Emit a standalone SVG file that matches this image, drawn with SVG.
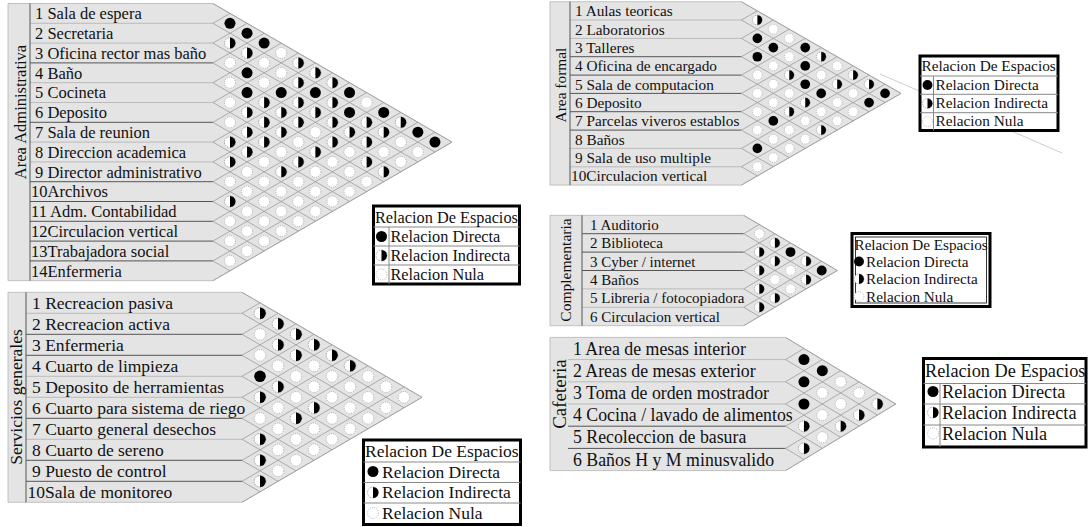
<svg xmlns="http://www.w3.org/2000/svg" width="1088" height="527" viewBox="0 0 1088 527">
<style>
.t{font-family:"Liberation Serif","Times New Roman",serif;fill:#111}
.pan{fill:#e4e4e4;stroke:#b4b4b4;stroke-width:0.8}
.grid{fill:none;stroke:#9c9c9c;stroke-width:0.8;vector-effect:non-scaling-stroke}
.sd{fill:none;stroke:#555;stroke-width:1}
.sl{fill:none;stroke:#b0b0b0;stroke-width:0.8}
.vl{fill:none;stroke:#555;stroke-width:1}
.box{fill:#fff;stroke:#000;stroke-width:3}
.lgl{fill:none;stroke:#888;stroke-width:1}
</style>
<defs>
  <!-- relation symbols: direct, indirect, null -->
  <g id="D"><circle r="5.5" fill="#000"/></g>
  <g id="I"><circle r="5.5" fill="#fff" stroke="#8a8a8a" stroke-width="0.7" stroke-dasharray="1.5 1"/><path d="M0-5.5A5.5 5.5 0 0 1 0 5.5Z" fill="#000"/></g>
  <g id="N"><circle r="5.5" fill="#fff" stroke="#9a9a9a" stroke-width="0.7" stroke-dasharray="1 1.2"/></g>
  <!-- per-matrix wrappers undoing the lattice scale -->
  <g id="aD" transform="scale(0.058548,0.10101)"><use href="#D"/></g>
  <g id="aI" transform="scale(0.058548,0.10101)"><use href="#I"/></g>
  <g id="aN" transform="scale(0.058548,0.10101)"><use href="#N"/></g>
  <g id="sD" transform="scale(0.058333,0.1)"><use href="#D"/></g>
  <g id="sI" transform="scale(0.058333,0.1)"><use href="#I"/></g>
  <g id="sN" transform="scale(0.058333,0.1)"><use href="#N"/></g>
  <g id="fD" transform="scale(0.055138,0.095965)"><use href="#D"/></g>
  <g id="fI" transform="scale(0.055138,0.095965)"><use href="#I"/></g>
  <g id="fN" transform="scale(0.055138,0.095965)"><use href="#N"/></g>
  <g id="cD" transform="scale(0.057692,0.097826)"><use href="#D"/></g>
  <g id="cI" transform="scale(0.057692,0.097826)"><use href="#I"/></g>
  <g id="cN" transform="scale(0.057692,0.097826)"><use href="#N"/></g>
  <g id="kD" transform="scale(0.054466,0.09009)"><use href="#D"/></g>
  <g id="kI" transform="scale(0.054466,0.09009)"><use href="#I"/></g>
  <g id="kN" transform="scale(0.054466,0.09009)"><use href="#N"/></g>
</defs>
<rect width="1088" height="527" fill="#fff"/>

<!-- faint guide line behind the formal-area legend -->
<g id="guide">
  <path d="M880 74L1062 153" stroke="#d6c8cc" stroke-width="1" fill="none"/>
</g>

<!-- ===== Area Administrativa ===== -->
<g id="matrix-admin">
  <polygon class="pan" points="8,3.5 212.9,3.5 452,142.1 212.9,280.7 8,280.7"/>
  <path class="sl" d="M30 23.3H212.9M30 43.1H212.9M30 82.7H212.9M30 102.5H212.9M30 142.1H212.9M30 161.9H212.9"/>
  <path class="sd" d="M30 62.9H212.9M30 122.3H212.9M30 181.7H212.9M30 201.5H212.9M30 221.3H212.9M30 241.1H212.9M30 260.9H212.9"/>
  <path class="vl" d="M30 3.5V280.7"/>
  <text class="t" font-size="16.5" text-anchor="middle" transform="translate(26,112) rotate(-90)">Area Administrativa</text>
  <g class="t" font-size="16.5">
    <text x="35" y="19.2">1 Sala de espera</text>
    <text x="35" y="39">2 Secretaria</text>
    <text x="35" y="58.8">3 Oficina rector mas baño</text>
    <text x="35" y="78.6">4 Baño</text>
    <text x="35" y="98.4">5 Cocineta</text>
    <text x="35" y="118.2">6 Deposito</text>
    <text x="35" y="138">7 Sala de reunion</text>
    <text x="35" y="157.8">8 Direccion academica</text>
    <text x="35" y="177.6">9 Director administrativo</text>
    <text x="31" y="197.4">10Archivos</text>
    <text x="31" y="217.2">11 Adm. Contabilidad</text>
    <text x="31" y="237">12Circulacion vertical</text>
    <text x="31" y="256.8">13Trabajadora social</text>
    <text x="31" y="276.6">14Enfermeria</text>
  </g>
  <g transform="translate(212.9,3.5) scale(17.08,9.9)">
    <path class="grid" d="M0 0L14 14M0 2L13 15M0 4L12 16M0 6L11 17M0 8L10 18M0 10L9 19M0 12L8 20M0 14L7 21M0 16L6 22M0 18L5 23M0 20L4 24M0 22L3 25M0 24L2 26M0 26L1 27M0 2L1 1M0 4L2 2M0 6L3 3M0 8L4 4M0 10L5 5M0 12L6 6M0 14L7 7M0 16L8 8M0 18L9 9M0 20L10 10M0 22L11 11M0 24L12 12M0 26L13 13M0 28L14 14"/>
    <use href="#aD" x="1" y="2"/><use href="#aD" x="2" y="3"/><use href="#aD" x="3" y="4"/><use href="#aN" x="4" y="5"/><use href="#aI" x="5" y="6"/><use href="#aI" x="6" y="7"/><use href="#aI" x="7" y="8"/><use href="#aD" x="8" y="9"/><use href="#aN" x="9" y="10"/><use href="#aD" x="10" y="11"/><use href="#aI" x="11" y="12"/><use href="#aD" x="12" y="13"/><use href="#aD" x="13" y="14"/>
    <use href="#aI" x="1" y="4"/><use href="#aI" x="2" y="5"/><use href="#aN" x="3" y="6"/><use href="#aN" x="4" y="7"/><use href="#aI" x="5" y="8"/><use href="#aD" x="6" y="9"/><use href="#aI" x="7" y="10"/><use href="#aD" x="8" y="11"/><use href="#aI" x="9" y="12"/><use href="#aI" x="10" y="13"/><use href="#aN" x="11" y="14"/><use href="#aN" x="12" y="15"/>
    <use href="#aN" x="1" y="6"/><use href="#aD" x="2" y="7"/><use href="#aN" x="3" y="8"/><use href="#aD" x="4" y="9"/><use href="#aI" x="5" y="10"/><use href="#aI" x="6" y="11"/><use href="#aI" x="7" y="12"/><use href="#aI" x="8" y="13"/><use href="#aI" x="9" y="14"/><use href="#aN" x="10" y="15"/><use href="#aN" x="11" y="16"/>
    <use href="#aN" x="1" y="8"/><use href="#aD" x="2" y="9"/><use href="#aI" x="3" y="10"/><use href="#aI" x="4" y="11"/><use href="#aI" x="5" y="12"/><use href="#aN" x="6" y="13"/><use href="#aI" x="7" y="14"/><use href="#aN" x="8" y="15"/><use href="#aI" x="9" y="16"/><use href="#aI" x="10" y="17"/>
    <use href="#aN" x="1" y="10"/><use href="#aI" x="2" y="11"/><use href="#aI" x="3" y="12"/><use href="#aI" x="4" y="13"/><use href="#aN" x="5" y="14"/><use href="#aI" x="6" y="15"/><use href="#aN" x="7" y="16"/><use href="#aN" x="8" y="17"/><use href="#aN" x="9" y="18"/>
    <use href="#aN" x="1" y="12"/><use href="#aI" x="2" y="13"/><use href="#aI" x="3" y="14"/><use href="#aN" x="4" y="15"/><use href="#aI" x="5" y="16"/><use href="#aN" x="6" y="17"/><use href="#aN" x="7" y="18"/><use href="#aN" x="8" y="19"/>
    <use href="#aI" x="1" y="14"/><use href="#aI" x="2" y="15"/><use href="#aN" x="3" y="16"/><use href="#aI" x="4" y="17"/><use href="#aN" x="5" y="18"/><use href="#aN" x="6" y="19"/><use href="#aN" x="7" y="20"/>
    <use href="#aI" x="1" y="16"/><use href="#aN" x="2" y="17"/><use href="#aN" x="3" y="18"/><use href="#aN" x="4" y="19"/><use href="#aN" x="5" y="20"/><use href="#aN" x="6" y="21"/>
    <use href="#aN" x="1" y="18"/><use href="#aN" x="2" y="19"/><use href="#aN" x="3" y="20"/><use href="#aN" x="4" y="21"/><use href="#aN" x="5" y="22"/>
    <use href="#aI" x="1" y="20"/><use href="#aN" x="2" y="21"/><use href="#aN" x="3" y="22"/><use href="#aN" x="4" y="23"/>
    <use href="#aN" x="1" y="22"/><use href="#aN" x="2" y="23"/><use href="#aN" x="3" y="24"/>
    <use href="#aN" x="1" y="24"/><use href="#aN" x="2" y="25"/>
    <use href="#aN" x="1" y="26"/>
  </g>
</g>
<g id="legend-admin">
  <rect class="box" x="373.5" y="206" width="146" height="78"/>
  <path class="lgl" d="M373.5 227H519.5M373.5 246H519.5M373.5 265H519.5M389 227V284"/>
  <text class="t" x="375" y="222.5" font-size="16.3">Relacion De Espacios</text>
  <use href="#D" x="381.5" y="236.5"/><use href="#I" x="381.5" y="255.5"/><use href="#N" x="381.5" y="274.5"/>
  <g class="t" font-size="16.3">
    <text x="390.5" y="241.5">Relacion Directa</text>
    <text x="390.5" y="260.5">Relacion Indirecta</text>
    <text x="390.5" y="279.5">Relacion Nula</text>
  </g>
</g>

<!-- ===== Servicios generales ===== -->
<g id="matrix-servicios">
  <polygon class="pan" points="8,292.3 242,292.3 422,397.3 242,502.3 8,502.3"/>
  <path class="sl" d="M26 313.3H242M26 376.3H242M26 397.3H242M26 439.3H242"/>
  <path class="sd" d="M26 334.3H242M26 355.3H242M26 418.3H242M26 460.3H242M26 481.3H242"/>
  <path class="vl" d="M26 292.3V502.3" stroke="#777"/>
  <text class="t" font-size="17.5" text-anchor="middle" transform="translate(21.5,397) rotate(-90)">Servicios generales</text>
  <g class="t" font-size="17.5">
    <text x="32" y="308.8">1 Recreacion pasiva</text>
    <text x="32" y="329.8">2 Recreacion activa</text>
    <text x="32" y="350.8">3 Enfermeria</text>
    <text x="32" y="371.8">4 Cuarto de limpieza</text>
    <text x="32" y="392.8">5 Deposito de herramientas</text>
    <text x="32" y="413.8">6 Cuarto para sistema de riego</text>
    <text x="32" y="434.8">7 Cuarto general desechos</text>
    <text x="32" y="455.8">8 Cuarto de sereno</text>
    <text x="32" y="476.8">9 Puesto de control</text>
    <text x="27.5" y="497.8">10Sala de monitoreo</text>
  </g>
  <g transform="translate(242,292.3) scale(18,10.5)">
    <path class="grid" d="M0 0L10 10M0 2L9 11M0 4L8 12M0 6L7 13M0 8L6 14M0 10L5 15M0 12L4 16M0 14L3 17M0 16L2 18M0 18L1 19M0 2L1 1M0 4L2 2M0 6L3 3M0 8L4 4M0 10L5 5M0 12L6 6M0 14L7 7M0 16L8 8M0 18L9 9M0 20L10 10"/>
    <use href="#sI" x="1" y="2"/><use href="#sN" x="1" y="4"/><use href="#sN" x="1" y="6"/><use href="#sD" x="1" y="8"/><use href="#sI" x="1" y="10"/><use href="#sN" x="1" y="12"/><use href="#sI" x="1" y="14"/><use href="#sI" x="1" y="16"/><use href="#sI" x="1" y="18"/>
    <use href="#sI" x="2" y="3"/><use href="#sI" x="2" y="5"/><use href="#sN" x="2" y="7"/><use href="#sI" x="2" y="9"/><use href="#sN" x="2" y="11"/><use href="#sN" x="2" y="13"/><use href="#sN" x="2" y="15"/><use href="#sN" x="2" y="17"/>
    <use href="#sI" x="3" y="4"/><use href="#sI" x="3" y="6"/><use href="#sN" x="3" y="8"/><use href="#sN" x="3" y="10"/><use href="#sI" x="3" y="12"/><use href="#sN" x="3" y="14"/><use href="#sN" x="3" y="16"/>
    <use href="#sI" x="4" y="5"/><use href="#sN" x="4" y="7"/><use href="#sN" x="4" y="9"/><use href="#sI" x="4" y="11"/><use href="#sN" x="4" y="13"/><use href="#sN" x="4" y="15"/>
    <use href="#sI" x="5" y="6"/><use href="#sN" x="5" y="8"/><use href="#sN" x="5" y="10"/><use href="#sN" x="5" y="12"/><use href="#sN" x="5" y="14"/>
    <use href="#sI" x="6" y="7"/><use href="#sN" x="6" y="9"/><use href="#sN" x="6" y="11"/><use href="#sN" x="6" y="13"/>
    <use href="#sN" x="7" y="8"/><use href="#sN" x="7" y="10"/><use href="#sN" x="7" y="12"/>
    <use href="#sN" x="8" y="9"/><use href="#sN" x="8" y="11"/>
    <use href="#sN" x="9" y="10"/>
  </g>
</g>
<g id="legend-servicios">
  <rect class="box" x="363.5" y="440" width="157" height="84.5"/>
  <path class="lgl" d="M363.5 462H520.5M363.5 482.5H520.5M363.5 503H520.5" stroke="#aaa"/>
  <text class="t" x="365" y="456.5" font-size="17.5">Relacion De Espacios</text>
  <use href="#D" x="373" y="471.5"/><use href="#I" x="373" y="492.5"/><use href="#N" x="373" y="513"/>
  <g class="t" font-size="17.5">
    <text x="382" y="477.5">Relacion Directa</text>
    <text x="382" y="498">Relacion Indirecta</text>
    <text x="382" y="518.5">Relacion Nula</text>
  </g>
</g>

<!-- ===== Area formal ===== -->
<g id="matrix-formal">
  <polygon class="pan" points="550,1.7 741.4,1.7 901,93.4 741.4,185.1 550,185.1"/>
  <path class="sl" d="M570 20H741.4M570 38.4H741.4M570 148.4H741.4M570 166.8H741.4"/>
  <path class="sd" d="M570 56.7H741.4M570 75.1H741.4M570 93.4H741.4M570 111.7H741.4M570 130.1H741.4"/>
  <path class="vl" d="M570 1.7V185.1"/>
  <text class="t" font-size="15.4" text-anchor="middle" transform="translate(566,85) rotate(-90)">Area formal</text>
  <g class="t" font-size="15.3">
    <text x="575" y="16.2">1 Aulas teoricas</text>
    <text x="575" y="34.5">2 Laboratorios</text>
    <text x="575" y="52.9">3 Talleres</text>
    <text x="575" y="71.2">4 Oficina de encargado</text>
    <text x="575" y="89.5">5 Sala de computacion</text>
    <text x="575" y="107.9">6 Deposito</text>
    <text x="575" y="126.2">7 Parcelas viveros establos</text>
    <text x="575" y="144.6">8 Baños</text>
    <text x="575" y="162.9">9 Sala de uso multiple</text>
    <text x="571" y="181.2">10Circulacion vertical</text>
  </g>
  <g transform="translate(741.4,1.7) scale(15.96,9.17)">
    <path class="grid" d="M0 0L10 10M0 2L9 11M0 4L8 12M0 6L7 13M0 8L6 14M0 10L5 15M0 12L4 16M0 14L3 17M0 16L2 18M0 18L1 19M0 2L1 1M0 4L2 2M0 6L3 3M0 8L4 4M0 10L5 5M0 12L6 6M0 14L7 7M0 16L8 8M0 18L9 9M0 20L10 10"/>
    <use href="#fI" x="1" y="2"/><use href="#fD" x="1" y="4"/><use href="#fD" x="1" y="6"/><use href="#fN" x="1" y="8"/><use href="#fN" x="1" y="10"/><use href="#fN" x="1" y="12"/><use href="#fN" x="1" y="14"/><use href="#fD" x="1" y="16"/><use href="#fN" x="1" y="18"/>
    <use href="#fN" x="2" y="3"/><use href="#fD" x="2" y="5"/><use href="#fN" x="2" y="7"/><use href="#fN" x="2" y="9"/><use href="#fN" x="2" y="11"/><use href="#fD" x="2" y="13"/><use href="#fN" x="2" y="15"/><use href="#fN" x="2" y="17"/>
    <use href="#fN" x="3" y="4"/><use href="#fN" x="3" y="6"/><use href="#fI" x="3" y="8"/><use href="#fN" x="3" y="10"/><use href="#fI" x="3" y="12"/><use href="#fN" x="3" y="14"/><use href="#fN" x="3" y="16"/>
    <use href="#fD" x="4" y="5"/><use href="#fD" x="4" y="7"/><use href="#fD" x="4" y="9"/><use href="#fI" x="4" y="11"/><use href="#fN" x="4" y="13"/><use href="#fN" x="4" y="15"/>
    <use href="#fI" x="5" y="6"/><use href="#fN" x="5" y="8"/><use href="#fD" x="5" y="10"/><use href="#fN" x="5" y="12"/><use href="#fI" x="5" y="14"/>
    <use href="#fN" x="6" y="7"/><use href="#fI" x="6" y="9"/><use href="#fN" x="6" y="11"/><use href="#fN" x="6" y="13"/>
    <use href="#fI" x="7" y="8"/><use href="#fN" x="7" y="10"/><use href="#fN" x="7" y="12"/>
    <use href="#fI" x="8" y="9"/><use href="#fD" x="8" y="11"/>
    <use href="#fD" x="9" y="10"/>
  </g>
</g>
<g id="legend-formal">
  <rect class="box" x="920" y="56" width="138" height="74.5"/>
  <path class="lgl" d="M920 76H1058M920 94.3H1058M920 112.7H1058M933.5 76V130.5"/>
  <text class="t" x="921.5" y="71" font-size="15.3">Relacion De Espacios</text>
  <g transform="translate(927.5,85) scale(0.9)"><use href="#D"/></g>
  <g transform="translate(927.5,103.5) scale(0.9)"><use href="#I"/></g>
  <g transform="translate(927.5,121.5) scale(0.9)"><use href="#N"/></g>
  <g class="t" font-size="15.3">
    <text x="935.5" y="89.5">Relacion Directa</text>
    <text x="935.5" y="107.5">Relacion Indirecta</text>
    <text x="935.5" y="126">Relacion Nula</text>
  </g>
</g>

<!-- ===== Complementaria ===== -->
<g id="matrix-complementaria">
  <polygon class="pan" points="550,215.3 743.7,215.3 837.3,270.5 743.7,325.7 550,325.7"/>
  <path class="sl" d="M582 288.9H743.7M582 307.3H743.7"/>
  <path class="sd" d="M582 233.7H743.7M582 252.1H743.7M582 270.5H743.7"/>
  <path class="vl" d="M582 215.3V325.7" stroke="#888"/>
  <text class="t" font-size="15.5" text-anchor="middle" transform="translate(570.5,270) rotate(-90)">Complementaria</text>
  <g class="t" font-size="15">
    <text x="590" y="229.7">1 Auditorio</text>
    <text x="590" y="248.1">2 Biblioteca</text>
    <text x="590" y="266.5">3 Cyber / internet</text>
    <text x="590" y="284.9">4 Baños</text>
    <text x="590" y="303.3">5 Libreria / fotocopiadora</text>
    <text x="590" y="321.7">6 Circulacion vertical</text>
  </g>
  <g transform="translate(743.7,215.3) scale(15.6,9.2)">
    <path class="grid" d="M0 0L6 6M0 2L5 7M0 4L4 8M0 6L3 9M0 8L2 10M0 10L1 11M0 2L1 1M0 4L2 2M0 6L3 3M0 8L4 4M0 10L5 5M0 12L6 6"/>
    <use href="#cN" x="1" y="2"/><use href="#cI" x="1" y="4"/><use href="#cI" x="1" y="6"/><use href="#cI" x="1" y="8"/><use href="#cI" x="1" y="10"/>
    <use href="#cI" x="2" y="3"/><use href="#cI" x="2" y="5"/><use href="#cN" x="2" y="7"/><use href="#cI" x="2" y="9"/>
    <use href="#cD" x="3" y="4"/><use href="#cN" x="3" y="6"/><use href="#cN" x="3" y="8"/>
    <use href="#cI" x="4" y="5"/><use href="#cI" x="4" y="7"/>
    <use href="#cD" x="5" y="6"/>
  </g>
</g>
<g id="legend-complementaria">
  <rect class="box" x="852" y="233.5" width="138" height="73"/>
  <rect x="855.5" y="237" width="131" height="66" fill="none" stroke="#000" stroke-width="0.8"/>
  <text class="t" x="854.5" y="249.5" font-size="15.2">Relacion De Espacios</text>
  <g transform="translate(859,261.5) scale(0.9)"><use href="#D"/></g>
  <g transform="translate(859,279) scale(0.9)"><use href="#I"/></g>
  <g transform="translate(859,296.5) scale(0.9)"><use href="#N"/></g>
  <g class="t" font-size="15.2">
    <text x="866" y="266.5">Relacion Directa</text>
    <text x="866" y="284">Relacion Indirecta</text>
    <text x="866" y="301.5">Relacion Nula</text>
  </g>
</g>

<!-- ===== Cafeteria ===== -->
<g id="matrix-cafeteria">
  <polygon class="pan" points="550,337.4 785.6,337.4 895.8,404 785.6,470.6 550,470.6"/>
  <path class="sl" d="M568 359.6H785.6M568 381.8H785.6M568 404H785.6"/>
  <path class="sd" d="M568 426.2H785.6M568 448.4H785.6"/>
  <text class="t" font-size="19" text-anchor="middle" transform="translate(565.5,394) rotate(-90)">Cafeteria</text>
  <g class="t" font-size="17.8">
    <text x="573" y="354.5">1 Area de mesas interior</text>
    <text x="573" y="376.7">2 Areas de mesas exterior</text>
    <text x="573" y="398.9">3 Toma de orden mostrador</text>
    <text x="573" y="421.1">4 Cocina / lavado de alimentos</text>
    <text x="573" y="443.3">5 Recoleccion de basura</text>
    <text x="573" y="465.5">6 Baños H y M minusvalido</text>
  </g>
  <g transform="translate(785.6,337.4) scale(18.36,11.1)">
    <path class="grid" d="M0 0L6 6M0 2L5 7M0 4L4 8M0 6L3 9M0 8L2 10M0 10L1 11M0 2L1 1M0 4L2 2M0 6L3 3M0 8L4 4M0 10L5 5M0 12L6 6"/>
    <use href="#kD" x="1" y="2"/><use href="#kD" x="1" y="4"/><use href="#kD" x="1" y="6"/><use href="#kI" x="1" y="8"/><use href="#kI" x="1" y="10"/>
    <use href="#kD" x="2" y="3"/><use href="#kN" x="2" y="5"/><use href="#kN" x="2" y="7"/><use href="#kN" x="2" y="9"/>
    <use href="#kN" x="3" y="4"/><use href="#kN" x="3" y="6"/><use href="#kI" x="3" y="8"/>
    <use href="#kN" x="4" y="5"/><use href="#kI" x="4" y="7"/>
    <use href="#kI" x="5" y="6"/>
  </g>
</g>
<g id="legend-cafeteria">
  <rect class="box" x="923.5" y="358.5" width="162.5" height="88.5"/>
  <path class="lgl" d="M923.5 383.5H1086M923.5 404H1086M923.5 425H1086M940 383.5V447"/>
  <text class="t" x="925" y="377" font-size="18.3">Relacion De Espacios</text>
  <use href="#D" x="933" y="391.5"/><use href="#I" x="933" y="412.5"/><use href="#N" x="933" y="433.5"/>
  <g class="t" font-size="18.3">
    <text x="942" y="397.5">Relacion Directa</text>
    <text x="942" y="418.5">Relacion Indirecta</text>
    <text x="942" y="440">Relacion Nula</text>
  </g>
</g>
</svg>
